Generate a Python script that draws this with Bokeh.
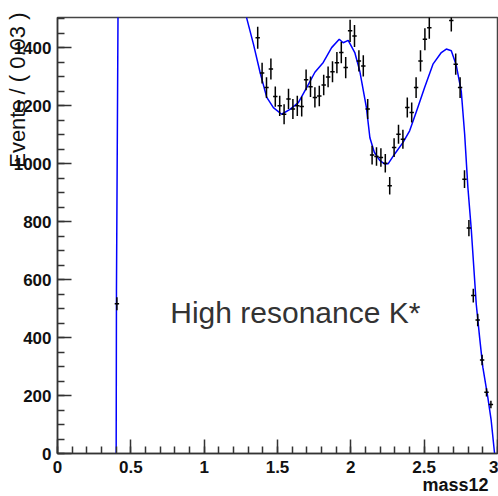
import numpy as np
from bokeh.plotting import figure
from bokeh.models import ColumnDataSource, Label, Range1d, FixedTicker, Title
from bokeh.embed import file_html
from bokeh.resources import INLINE

# ---- data ----
bin_centers = [0.405,
               1.365, 1.395, 1.425, 1.455, 1.485, 1.515, 1.545, 1.575, 1.605, 1.635,
               1.665, 1.695, 1.725, 1.755, 1.785, 1.815, 1.845, 1.875, 1.905, 1.935,
               1.965, 1.995, 2.025, 2.055, 2.085, 2.115, 2.145, 2.175, 2.205, 2.235,
               2.265, 2.295, 2.325, 2.355, 2.385, 2.415, 2.445, 2.475, 2.505, 2.535,
               2.685, 2.715, 2.745, 2.775, 2.805, 2.835, 2.865, 2.895, 2.925, 2.955]
counts = [517,
          1435, 1313, 1263, 1327, 1232, 1200, 1171, 1224, 1189, 1200,
          1198, 1290, 1266, 1229, 1234, 1272, 1300, 1318, 1349, 1384,
          1332, 1459, 1441, 1355, 1338, 1189, 1030, 1025, 1022, 1002,
          924, 1056, 1102, 1085, 1194, 1177, 1263, 1355, 1430, 1470,
          1495, 1344, 1263, 947, 778, 545, 461, 323, 211, 169]
bin_half_width = 0.015

curve_x = [0.400, 0.402, 0.410, 0.420, 0.800, 1.200, 1.290, 1.336, 1.381, 1.426,
           1.472, 1.528, 1.585, 1.642, 1.699, 1.755, 1.812, 1.869, 1.921, 1.948,
           1.982, 2.027, 2.061, 2.106, 2.130, 2.160, 2.197, 2.231, 2.254, 2.299,
           2.356, 2.401, 2.449, 2.503, 2.560, 2.617, 2.651, 2.685, 2.719, 2.753,
           2.776, 2.798, 2.821, 2.855, 2.878, 2.900, 2.934, 2.957, 2.980]
curve_y = [0, 560, 1280, 2200, 2500, 1750, 1503, 1413, 1316, 1230,
           1194, 1171, 1188, 1211, 1263, 1316, 1350, 1401, 1430, 1418,
           1426, 1384, 1320, 1195, 1090, 1040, 1012, 999, 1000, 1034,
           1074, 1114, 1183, 1263, 1344, 1384, 1396, 1390, 1340, 1250,
           1103, 919, 775, 516, 401, 298, 194, 114, 0]

x_ticks = [0, 0.5, 1, 1.5, 2, 2.5, 3]
x_tick_labels = ["0", "0.5", "1", "1.5", "2", "2.5", "3"]
y_ticks = [0, 200, 400, 600, 800, 1000, 1200, 1400]
y_tick_labels = ["0", "200", "400", "600", "800", "1000", "1200", "1400"]

x_title = "mass12"
y_title = "Events / ( 0.03 )"
note = "High resonance K*"

# ---- figure ----
p = figure(width=498, height=496, x_range=Range1d(0, 3), y_range=Range1d(0, 1505),
           output_backend="svg", toolbar_location=None,
           min_border_left=57, min_border_right=1, min_border_top=17, min_border_bottom=43)
p.grid.visible = False
p.outline_line_color = "#444444"
p.outline_line_width = 1.5
p.background_fill_color = "white"
p.border_fill_color = "white"

x_minor = [round(v, 2) for v in np.arange(0, 3.0001, 0.1)]
y_minor = [float(v) for v in np.arange(0, 1501, 50)]
p.xaxis.ticker = FixedTicker(ticks=x_ticks, minor_ticks=x_minor)
p.yaxis.ticker = FixedTicker(ticks=y_ticks, minor_ticks=y_minor)
p.xaxis.major_label_overrides = {t: l for t, l in zip(x_ticks, x_tick_labels)}
p.yaxis.major_label_overrides = {t: l for t, l in zip(y_ticks, y_tick_labels)}

for ax in (p.xaxis, p.yaxis):
    ax.axis_line_color = "#333333"
    ax.axis_line_width = 1.5
    ax.major_tick_line_color = "#333333"
    ax.minor_tick_line_color = "#333333"
    ax.major_tick_line_width = 1.5
    ax.minor_tick_line_width = 1.5
    ax.major_tick_in = 14
    ax.major_tick_out = 0
    ax.minor_tick_in = 7
    ax.minor_tick_out = 0
    ax.major_label_text_font = "Liberation Sans"
    ax.major_label_text_font_style = "bold"
    ax.major_label_text_font_size = "17px"
    ax.major_label_text_color = "#111111"
p.xaxis.major_label_standoff = 7
p.yaxis.major_label_standoff = 6

# fit curve
p.line(curve_x, curve_y, line_color="#0000ff", line_width=1.5)

# data points with errors
cx = np.array(bin_centers)
cy = np.array(counts, dtype=float)
err = np.sqrt(cy)
src = ColumnDataSource(dict(x=cx, y=cy, x0=cx - bin_half_width, x1=cx + bin_half_width,
                            y0=cy - err, y1=cy + err))
p.segment(x0="x", y0="y0", x1="x", y1="y1", source=src, line_color="black", line_width=1.5)
p.segment(x0="x0", y0="y", x1="x1", y1="y", source=src, line_color="black", line_width=1.5)

# annotation inside the frame
p.add_layout(Label(x=0.769, y=486, text=note, text_font="Liberation Sans",
                   text_font_size="30px", text_color="#333333",
                   text_align="left", text_baseline="alphabetic"))

# axis titles as side-panel titles
p.add_layout(Title(text=x_title, align="right", offset=9, standoff=-6,
                   text_font="Liberation Sans", text_font_style="bold",
                   text_font_size="18px", text_color="#111111"), "below")
p.add_layout(Title(text=y_title, align="right", offset=-5, standoff=-38,
                   text_font="Liberation Sans", text_font_style="normal",
                   text_font_size="22px", text_color="#111111"), "left")

open("out.html", "w").write(file_html(p, INLINE))
